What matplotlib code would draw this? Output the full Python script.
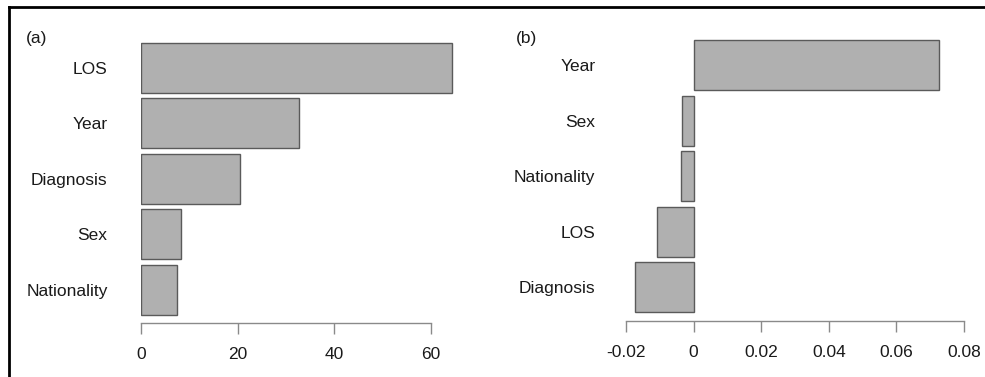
import matplotlib
matplotlib.use("Agg")
import matplotlib.pyplot as plt
from matplotlib.lines import Line2D

# Data
cats_a = ["LOS", "Year", "Diagnosis", "Sex", "Nationality"]
vals_a = [64.3, 32.7, 20.5, 8.3, 7.4]
ticks_a = [0, 20, 40, 60]

cats_b = ["Year", "Sex", "Nationality", "LOS", "Diagnosis"]
vals_b = [0.0725, -0.0033, -0.0036, -0.0107, -0.0172]
ticks_b = [-0.02, 0, 0.02, 0.04, 0.06, 0.08]
ticklabels_b = ["-0.02", "0", "0.02", "0.04", "0.06", "0.08"]

W, H = 985, 377
plt.rcParams['font.family'] = ['Liberation Sans', 'DejaVu Sans']
fig = plt.figure(figsize=(W / 100, H / 100), dpi=100)

def px_axes(l, t, r, b):
    return fig.add_axes([l / W, 1 - b / H, (r - l) / W, (b - t) / H])

fill = "#b0b0b0"
edge = "#5a5a5a"
axcol = "#8a8a8a"
txtcol = "#1a1a1a"
fs = 12.5

def style(ax, xlim, ylim, ticks, ticklabels, bounds):
    ax.set_xlim(*xlim)
    ax.set_ylim(*ylim)
    for s in ["top", "right", "left"]:
        ax.spines[s].set_visible(False)
    ax.spines["bottom"].set_color(axcol)
    ax.spines["bottom"].set_linewidth(1.0)
    ax.spines["bottom"].set_bounds(*bounds)
    ax.set_xticks(ticks)
    ax.set_xticklabels(ticklabels)
    ax.tick_params(axis="x", direction="out", length=8, width=1.0, color=axcol,
                   labelsize=fs, labelcolor=txtcol, pad=9)
    ax.tick_params(axis="y", length=0, labelsize=fs, labelcolor=txtcol, pad=24)
    ax.patch.set_alpha(0)

# Panel (a)
axa = px_axes(141, 35, 141 + 66 * 4.835, 323)
ya = list(range(len(cats_a)))
axa.barh(ya, vals_a, height=0.9, color=fill, edgecolor=edge, linewidth=1.0)
axa.set_yticks(ya)
axa.set_yticklabels(cats_a)
style(axa, (0, 66), ((323 - 68) / 55.4, (35 - 68) / 55.4), ticks_a,
      [str(t) for t in ticks_a], (0, 60))

# Panel (b)
axb = px_axes(626, 35, 964, 321)
yb = list(range(len(cats_b)))
axb.barh(yb, vals_b, height=0.9, color=fill, edgecolor=edge, linewidth=1.0)
axb.set_yticks(yb)
axb.set_yticklabels(cats_b)
style(axb, (-0.02, 0.08), ((321 - 65) / 55.6, (35 - 65) / 55.6), ticks_b,
      ticklabels_b, (-0.02, 0.08))
axb.tick_params(axis="y", pad=22)

# Panel labels
fig.text(26 / W, 1 - 38 / H, "(a)", fontsize=fs, color=txtcol, va="center", ha="left")
fig.text(516 / W, 1 - 38 / H, "(b)", fontsize=fs, color=txtcol, va="center", ha="left")

# Frame lines
fig.add_artist(Line2D([9 / W, 1], [1 - 7 / H, 1 - 7 / H], transform=fig.transFigure,
                      color="black", linewidth=2))
fig.add_artist(Line2D([9 / W, 9 / W], [1 - 7 / H, 0], transform=fig.transFigure,
                      color="black", linewidth=2))

fig.savefig("out.png", dpi=100, facecolor="white")
